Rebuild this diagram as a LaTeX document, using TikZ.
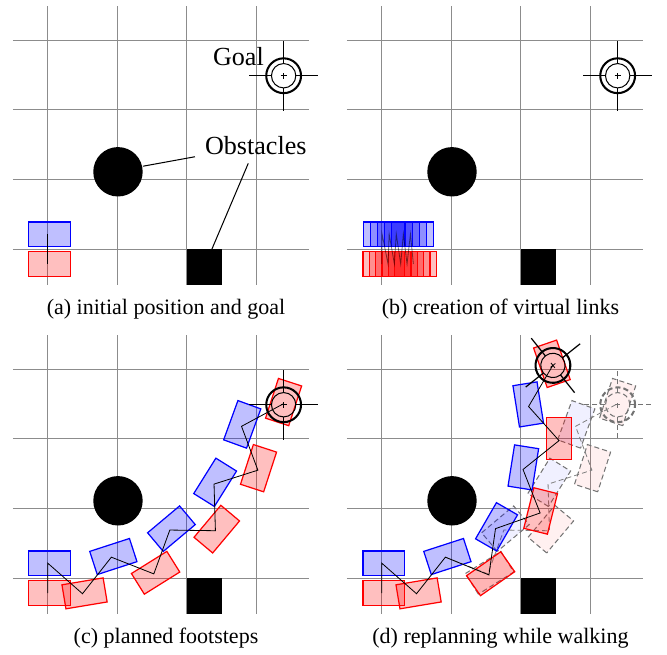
\documentclass[tikz,border=0pt]{standalone}
\usepackage{fontspec}
\setmainfont{Liberation Serif}
\newcommand{\ftp}[5]{% style, name, x, y, angle
  \coordinate (#2) at (#3,#4);
  \begin{scope}[shift={(#3,#4)}, rotate=#5]
    \draw[#1] (-0.27,-0.175) rectangle (0.33,0.175);
  \end{scope}}
\newcommand{\goalmark}[5]{% name, x, y, rot, style
  \coordinate (#1) at (#2,#3);
  \begin{scope}[shift={(#2,#3)}, rotate=#4, #5]
    \draw[line width=1pt] (0,0) circle (0.25);
    \draw[line width=0.5pt] (0,0) circle (0.175);
    \foreach \a in {0,90,180,270} \draw[line width=0.6pt] (\a:0.175) -- (\a:0.5);
    \draw[line width=0.4pt] (-0.045,0) -- (0.045,0) (0,-0.045) -- (0,0.045);
  \end{scope}}
\newcommand{\panelbase}[1]{%
  \foreach \x in {0,...,3} \draw[gridline] (\x,-0.51) -- (\x,3.49);
  \foreach \y in {0,...,3} \draw[gridline] (-0.5,\y) -- (3.75,\y);
  \fill (1.01,1.11) circle (0.355);
  \fill (2,-0.51) rectangle (2.5,0);
  \coordinate (#1circ) at (1.01,1.11);
  \coordinate (#1sq) at (2.25,-0.25);}
\begin{document}
\begin{tikzpicture}[x=1.2cm,y=1.2cm,
  gridline/.style={black!45, line width=0.5pt},
  bluefoot/.style={draw=blue, fill=blue, fill opacity=0.25, line width=0.6pt},
  redfoot/.style={draw=red, fill=red, fill opacity=0.25, line width=0.6pt},
  ghostblue/.style={draw=black!55, fill=blue, fill opacity=0.06, line width=0.5pt, dash pattern=on 2.5pt off 1.5pt},
  ghostred/.style={draw=black!55, fill=red, fill opacity=0.06, line width=0.5pt, dash pattern=on 2.5pt off 1.5pt},
  link/.style={black, line width=0.4pt},
  vlink/.style={black, line width=0.4pt, opacity=0.5},
  ghostlink/.style={black!50, line width=0.4pt, dash pattern=on 2.5pt off 1.5pt},
  leader/.style={black, line width=0.5pt},
  lab/.style={font=\fontsize{12.8}{15}\selectfont, inner sep=0pt, anchor=base},
  captext/.style={font=\fontsize{10.8}{13}\selectfont, inner sep=0pt, anchor=base},
  goalstyle/.style={black},
  ghostgoal/.style={black!55, dash pattern=on 2.5pt off 1.5pt},
]
\useasboundingbox (0,0) rectangle (9.583,9.397);

% ---------------- panel (a)
\begin{scope}[shift={(0.685,5.819)}]
  \panelbase{a}
  \ftp{redfoot}{aR0}{0}{-0.215}{0}
  \ftp{bluefoot}{aB0}{0}{0.215}{0}
  \draw[link] (aR0) -- (aB0);
  \goalmark{aG}{3.39}{2.49}{0}{goalstyle}
  \node[lab] (goallab) at (2.74,2.63) {Goal};
  \node[lab] (obslab) at (2.99,1.36) {Obstacles};
  \coordinate (l1a) at (1.37,1.19);
  \coordinate (l1b) at (2.116,1.326);
  \coordinate (l2a) at (2.36,0.0);
  \coordinate (l2b) at (2.882,1.231);
  \draw[leader] (l1a) -- (l1b);
  \draw[leader] (l2a) -- (l2b);
\end{scope}
\node[captext] (capa) at (2.385,4.875) {(a) initial position and goal};

% ---------------- panel (b)
\begin{scope}[shift={(5.484,5.819)}]
  \panelbase{b}
  \foreach \i in {0,...,5} {\ftp{redfoot}{bR\i}{0.091*\i}{-0.215}{0}}
  \foreach \i in {0,...,4} {\ftp{bluefoot}{bB\i}{0.005+0.102*\i}{0.215}{0}}
  \draw[vlink] (bR0) -- (bB0) -- (bR1) -- (bB1) -- (bR2) -- (bB2) -- (bR3) -- (bB3) -- (bR4) -- (bB4) -- (bR5);
  \goalmark{bG}{3.39}{2.49}{0}{goalstyle}
\end{scope}
\node[captext] (capb) at (7.19,4.875) {(b) creation of virtual links};

% ---------------- panel (c)
\begin{scope}[shift={(0.685,1.092)}]
  \panelbase{c}
  \ftp{redfoot}{cR0}{0}{-0.215}{0}
  \ftp{bluefoot}{cB0}{0}{0.215}{0}
  \ftp{redfoot}{cR1}{0.50}{-0.225}{9.5}
  \ftp{bluefoot}{cB1}{0.915}{0.30}{18}
  \ftp{redfoot}{cR2}{1.525}{0.06}{32}
  \ftp{bluefoot}{cB2}{1.755}{0.69}{40}
  \ftp{redfoot}{cR3}{2.41}{0.68}{50}
  \ftp{bluefoot}{cB3}{2.39}{1.35}{58}
  \ftp{redfoot}{cR4}{3.02}{1.55}{72}
  \ftp{bluefoot}{cB4}{2.785}{2.18}{70}
  \ftp{redfoot}{cR5}{3.38}{2.50}{72}
  \draw[link] (cR0) -- (cB0) -- (cR1) -- (cB1) -- (cR2) -- (cB2) -- (cR3) -- (cB3) -- (cR4) -- (cB4) -- (cR5);
  \goalmark{cG}{3.39}{2.49}{0}{goalstyle}
\end{scope}
\node[captext] (capc) at (2.385,0.158) {(c) planned footsteps};

% ---------------- panel (d)
\begin{scope}[shift={(5.484,1.092)}]
  \panelbase{d}
  % old plan (ghost)
  \ftp{ghostred}{gR2}{1.525}{0.06}{32}
  \ftp{ghostblue}{gB2}{1.755}{0.69}{40}
  \ftp{ghostred}{gR3}{2.41}{0.68}{50}
  \ftp{ghostblue}{gB3}{2.39}{1.35}{58}
  \ftp{ghostred}{gR4}{3.02}{1.55}{72}
  \ftp{ghostblue}{gB4}{2.785}{2.18}{70}
  \ftp{ghostred}{gR5}{3.38}{2.50}{72}
  \goalmark{gG}{3.39}{2.49}{0}{ghostgoal}
  % new plan
  \ftp{redfoot}{dR0}{0}{-0.215}{0}
  \ftp{bluefoot}{dB0}{0}{0.215}{0}
  \ftp{redfoot}{dR1}{0.50}{-0.225}{9.5}
  \ftp{bluefoot}{dB1}{0.915}{0.30}{18}
  \draw[ghostlink] (dB1) -- (gR2) -- (gB2) -- (gR3) -- (gB3) -- (gR4) -- (gB4) -- (gR5);
  \ftp{redfoot}{dR2}{1.54}{0.045}{35}
  \ftp{bluefoot}{dB2}{1.635}{0.71}{60}
  \ftp{redfoot}{dR3}{2.276}{0.935}{76}
  \ftp{bluefoot}{dB3}{2.03}{1.56}{81}
  \ftp{redfoot}{dR4}{2.548}{1.975}{90}
  \ftp{bluefoot}{dB4}{2.11}{2.465}{99}
  \ftp{redfoot}{dR5}{2.455}{3.05}{109}
  \draw[link] (dR0) -- (dB0) -- (dR1) -- (dB1) -- (dR2) -- (dB2) -- (dR3) -- (dB3) -- (dR4) -- (dB4) -- (dR5);
  \goalmark{dG}{2.46}{3.055}{38.5}{goalstyle}
\end{scope}
\node[captext] (capd) at (7.19,0.158) {(d) replanning while walking};
\end{tikzpicture}
\end{document}
